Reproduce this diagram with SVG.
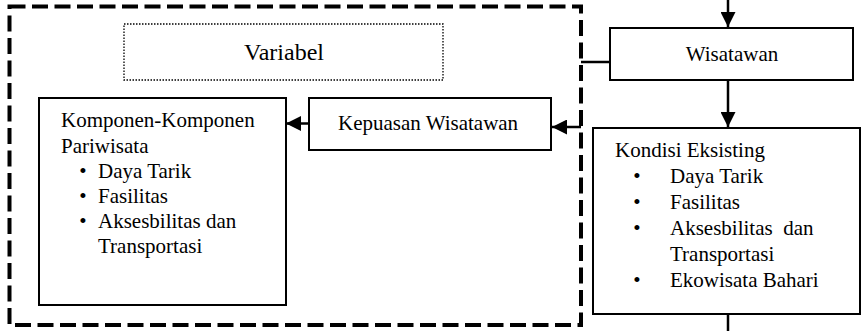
<svg xmlns="http://www.w3.org/2000/svg" width="862" height="331" viewBox="0 0 862 331">
<style>
text{font-family:"Liberation Serif","Times New Roman",serif;font-size:21px;fill:#000}
.box{fill:#fff;stroke:#000;stroke-width:2}
.dot{fill:none;stroke:#000;stroke-width:1.3;stroke-dasharray:1.5 1.5}
.dash{fill:none;stroke:#000;stroke-width:4;stroke-dasharray:16 6.5}
.ln{fill:none;stroke:#000;stroke-width:2.5}
.c{text-anchor:middle}
</style>
<defs>
<marker id="ah" viewBox="0 0 10 10" refX="10" refY="5" markerWidth="6" markerHeight="6" orient="auto" markerUnits="strokeWidth">
<path d="M0,0 L10,5 L0,10 Z" fill="#000"/>
</marker>
</defs>
<rect id="grouping" class="dash" x="9.5" y="6.5" width="571.5" height="318.5"/>
<g id="connectors">
<line class="ln" x1="728" y1="0" x2="728" y2="27" marker-end="url(#ah)"/>
<line class="ln" x1="728" y1="80" x2="728" y2="127" marker-end="url(#ah)"/>
<line class="ln" x1="610" y1="62" x2="581" y2="62"/>
<line class="ln" x1="581" y1="127" x2="552" y2="127" marker-end="url(#ah)"/>
<line class="ln" x1="309" y1="123.5" x2="286" y2="123.5" marker-end="url(#ah)"/>
<line class="ln" x1="728" y1="314" x2="728" y2="331"/>
</g>
<g id="variabel">
<rect class="dot" x="124" y="24" width="319" height="56"/>
<text class="c" x="284" y="60" style="font-size:24px">Variabel</text>
</g>
<g id="wisatawan">
<rect class="box" x="610" y="28" width="243" height="52"/>
<text class="c" x="732" y="61">Wisatawan</text>
</g>
<g id="kepuasan">
<rect class="box" x="309" y="98" width="242" height="52"/>
<text x="338" y="130">Kepuasan Wisatawan</text>
</g>
<g id="komponen">
<rect class="box" x="39" y="98" width="247" height="207"/>
<text x="61" y="127.3">Komponen-Komponen</text>
<text x="61" y="152.5">Pariwisata</text>
<text class="c" x="83" y="177.7">•</text><text x="98" y="177.7">Daya Tarik</text>
<text class="c" x="83" y="202.9">•</text><text x="98" y="202.9">Fasilitas</text>
<text class="c" x="83" y="228.1">•</text><text x="98" y="228.1">Aksesbilitas dan</text>
<text x="98" y="253.3">Transportasi</text>
</g>
<g id="kondisi">
<rect class="box" x="593" y="128" width="267" height="186"/>
<text x="615" y="157.3">Kondisi Eksisting</text>
<text class="c" x="637" y="183.2">•</text><text x="670" y="183.2">Daya Tarik</text>
<text class="c" x="637" y="209.1">•</text><text x="670" y="209.1">Fasilitas</text>
<text class="c" x="637" y="235">•</text><text x="670" y="235" xml:space="preserve">Aksesbilitas  dan</text>
<text x="670" y="260.9">Transportasi</text>
<text class="c" x="637" y="286.8">•</text><text x="670" y="286.8">Ekowisata Bahari</text>
</g>
</svg>
